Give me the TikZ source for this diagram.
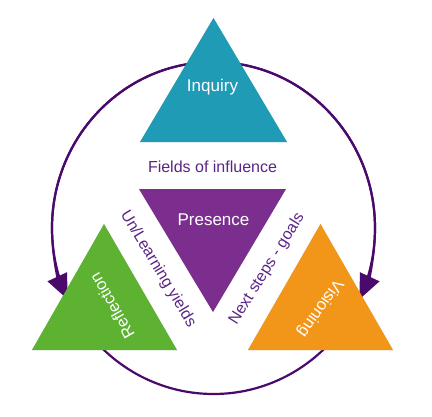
\documentclass[tikz,border=0pt]{standalone}
\usepackage{fontspec}
\setmainfont{Liberation Sans}
\usetikzlibrary{arrows.meta}
\definecolor{teal1}{HTML}{1F9BB6}
\definecolor{purp1}{HTML}{7B2E8E}
\definecolor{green1}{HTML}{5DB232}
\definecolor{orange1}{HTML}{F2961A}
\definecolor{arcpurple}{HTML}{4A0A6C}
\definecolor{txtpurple}{HTML}{5A2585}
\tikzset{
  ringline/.style={draw=arcpurple, line width=2.2pt},
  ringarrow/.style={ringline, -{Triangle[length=25pt,width=21pt]}},
  tri/.style={draw=none},
  shadowtri/.style={fill=black, opacity=0.18},
  intext/.style={text=white, font=\fontsize{17}{20}\selectfont, inner sep=0pt},
  outtext/.style={text=txtpurple, font=\fontsize{16}{19}\selectfont, inner sep=0pt},
}
\begin{document}
\begin{tikzpicture}[x=1pt,y=-1pt]
\useasboundingbox (0,0) rectangle (432,416);
% ring
\coordinate (c) at (213.5,228);
\draw[ringline] (c) ellipse [x radius=161.5, y radius=166];
\draw[ringarrow] (213.5,62) arc [start angle=270, end angle=154.5, x radius=161.5, y radius=166];
\draw[ringarrow] (213.5,62) arc [start angle=-90, end angle=25.5, x radius=161.5, y radius=166];
% triangle corners
\coordinate (iL) at (140,142); \coordinate (iR) at (287,142); \coordinate (iT) at (213.5,18);
\coordinate (pL) at (139,189); \coordinate (pR) at (286,189); \coordinate (pB) at (213,312);
\coordinate (rL) at (32,350);  \coordinate (rR) at (177,350); \coordinate (rT) at (104,224);
\coordinate (vL) at (248,350); \coordinate (vR) at (393,350); \coordinate (vT) at (320.5,224);
% shadows
\begin{scope}[shift={(2,3)}]
\fill[shadowtri] (iL) -- (iR) -- (iT) -- cycle;
\fill[shadowtri] (pL) -- (pR) -- (pB) -- cycle;
\fill[shadowtri] (rL) -- (rR) -- (rT) -- cycle;
\fill[shadowtri] (vL) -- (vR) -- (vT) -- cycle;
\end{scope}
% triangles
\fill[teal1] (iL) -- (iR) -- (iT) -- cycle;
\fill[purp1] (pL) -- (pR) -- (pB) -- cycle;
\fill[green1] (rL) -- (rR) -- (rT) -- cycle;
\fill[orange1] (vL) -- (vR) -- (vT) -- cycle;
% texts
\node[intext] (inq) at (212.5,87) {Inquiry};
\node[intext] (pres) at (213.5,220) {Presence};
\node[intext, font=\fontsize{16.5}{19}\selectfont, rotate=120] (refl) at (112,306) {Reflection};
\node[intext, font=\fontsize{16.5}{19}\selectfont, rotate=235] (vis) at (320,308) {Visioning};
\node[outtext] (fields) at (212.5,167) {Fields of influence};
\node[outtext, rotate=-59] (unl) at (158,269) {Un/Learning yields};
\node[outtext, rotate=58] (next) at (267,269) {Next steps - goals};
\end{tikzpicture}
\end{document}
